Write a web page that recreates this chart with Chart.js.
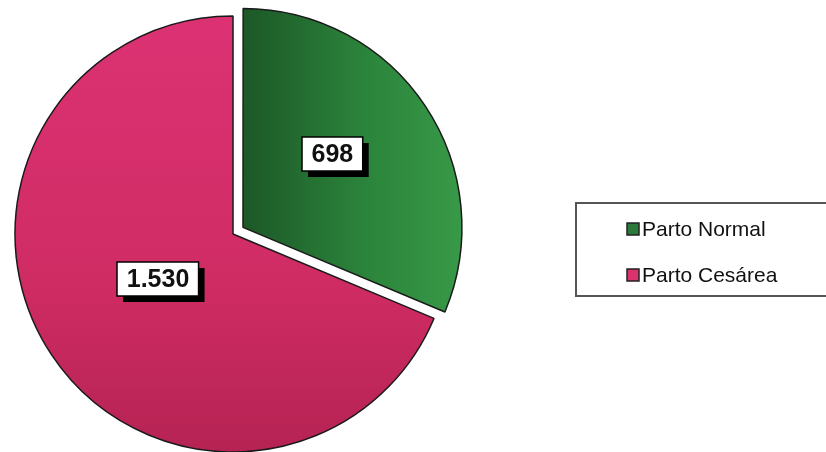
<!DOCTYPE html>
<html>
<head>
<meta charset="utf-8">
<script src="https://cdn.jsdelivr.net/npm/chart.js@4/dist/chart.umd.min.js"></script>
<style>
  body { margin: 0; background: #fff; }
  #wrap { width: 826px; height: 452px; position: relative; }
</style>
</head>
<body>
<div id="wrap"><canvas id="mycanvas"></canvas></div>
<script>
var categories = ["Parto Normal", "Parto Cesárea"];
var values = [698, 1530];
var legendColors = ["#2b7a3c", "#d9326f"];
var labelRadius = [0.53, 0.4];
var labelTurn = [-0.1, 0.05];

function fmt(n) {
	return String(n).replace(/\B(?=(\d{3})+(?!\d))/g, ".");
}

function sliceFill(c) {
	var chart = c.chart;
	var area = chart.chartArea;
	if (!area) return legendColors[c.dataIndex];
	var ctx = chart.ctx;
	var g;
	if (c.dataIndex === 0) {
		g = ctx.createLinearGradient(240, 0, 470, 0);
		g.addColorStop(0, "#1d5a28");
		g.addColorStop(0.5, "#2b843b");
		g.addColorStop(1, "#3a9d4a");
	} else {
		g = ctx.createLinearGradient(0, area.top, 0, area.bottom);
		g.addColorStop(0, "#dc3274");
		g.addColorStop(0.6, "#d02c64");
		g.addColorStop(1, "#b52353");
	}
	return g;
}

var labelsPlugin = {
	id: "boxLabels",
	afterDatasetsDraw: function(chart) {
		var ctx = chart.ctx;
		var meta = chart.getDatasetMeta(0);
		ctx.save();
		ctx.font = "bold 25px 'Liberation Sans', Arial, sans-serif";
		ctx.textAlign = "center";
		ctx.textBaseline = "middle";
		meta.data.forEach(function(arc, i) {
			var p = arc.getProps(["x", "y", "startAngle", "endAngle", "outerRadius"], true);
			var mid = (p.startAngle + p.endAngle) / 2;
			var off = (arc.options.offset || 0) / 4;
			var r = p.outerRadius * labelRadius[i];
			var cx = p.x + Math.cos(mid) * off + Math.cos(mid + labelTurn[i]) * r;
			var cy = p.y + Math.sin(mid) * off + Math.sin(mid + labelTurn[i]) * r;
			var txt = fmt(values[i]);
			var w = ctx.measureText(txt).width + 19;
			var h = 34;
			var x0 = Math.round(cx - w / 2), y0 = Math.round(cy - h / 2);
			ctx.fillStyle = "#000";
			ctx.fillRect(x0 + 6, y0 + 6, w, h);
			ctx.fillStyle = "#fff";
			ctx.fillRect(x0, y0, w, h);
			ctx.strokeStyle = "#000";
			ctx.lineWidth = 1.5;
			ctx.strokeRect(x0, y0, w, h);
			ctx.fillStyle = "#111";
			ctx.fillText(txt, cx, y0 + h / 2 + 1);
		});
		ctx.restore();
	}
};

var legendPlugin = {
	id: "boxLegend",
	afterDraw: function(chart) {
		var ctx = chart.ctx;
		ctx.save();
		ctx.strokeStyle = "#555";
		ctx.lineWidth = 2;
		ctx.strokeRect(576, 203, 260, 93);
		ctx.font = "21px 'Liberation Sans', Arial, sans-serif";
		ctx.textBaseline = "middle";
		ctx.textAlign = "left";
		categories.forEach(function(name, i) {
			var y = 229 + i * 46;
			ctx.fillStyle = legendColors[i];
			ctx.fillRect(627, y - 6, 12, 12);
			ctx.strokeStyle = "#222";
			ctx.lineWidth = 1.5;
			ctx.strokeRect(627, y - 6, 12, 12);
			ctx.fillStyle = "#111";
			ctx.fillText(name, 642, y + 1);
		});
		ctx.restore();
	}
};

var chartdata = {
	labels: categories,
	datasets: [
		{
			data: values,
			backgroundColor: sliceFill,
			borderColor: "#1a1a1a",
			borderWidth: 1.5,
			offset: [48, 0]
		}
	]
};

var ctx = document.getElementById("mycanvas");

var PieGraph = new Chart(ctx, {
	type: "pie",
	data: chartdata,
	options: {
		responsive: true,
		maintainAspectRatio: false,
		animation: false,
		events: [],
		radius: 218,
		layout: { padding: { left: 0, right: 360, top: 16, bottom: 0 } },
		plugins: {
			legend: { display: false },
			tooltip: { enabled: false }
		}
	},
	plugins: [labelsPlugin, legendPlugin]
});
</script>
</body>
</html>
